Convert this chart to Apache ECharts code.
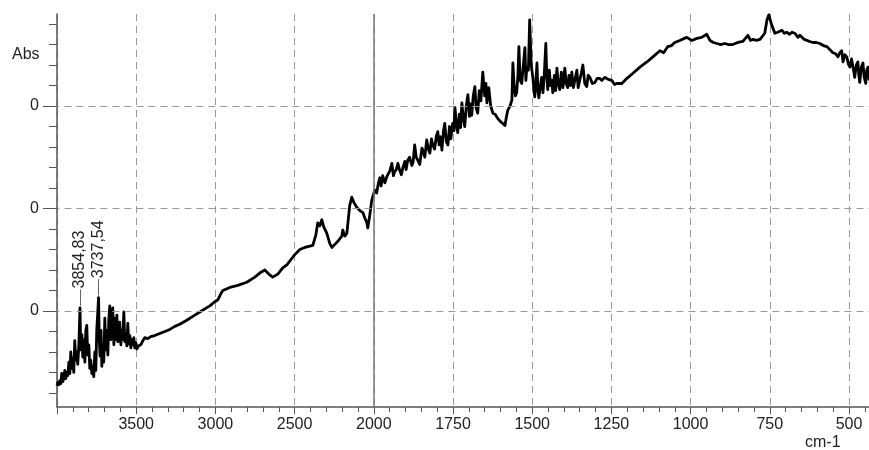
<!DOCTYPE html>
<html>
<head>
<meta charset="utf-8">
<script src="https://cdn.jsdelivr.net/npm/echarts@6/dist/echarts.min.js"></script>
<style>
  html, body { margin: 0; padding: 0; background: #fff; }
  #chart { width: 869px; height: 450px; }
</style>
</head>
<body>
<div id="chart"></div>
<script>
// IR absorbance spectrum, wavenumber (cm-1) against absorbance (Abs)
const wavenumbers = [
  4000, 3995, 3989, 3982, 3976, 3970, 3963, 3957, 3951, 3944, 3938, 3932, 3925, 3919, 3913, 3907,
  3900, 3894, 3888, 3881, 3875, 3869, 3862, 3854.83, 3850, 3843, 3837, 3831, 3824, 3818, 3812, 3806,
  3799, 3793, 3787, 3780, 3774, 3768, 3761, 3755, 3749, 3737.54, 3733, 3728, 3722, 3717, 3711, 3705,
  3698, 3692, 3686, 3679, 3673, 3667, 3660, 3654, 3648, 3641, 3635, 3629, 3622, 3616, 3610, 3604,
  3597, 3591, 3585, 3578, 3572, 3566, 3559, 3553, 3547, 3540, 3534, 3528, 3521, 3515, 3509, 3502,
  3496, 3484, 3471, 3458, 3446, 3427, 3408, 3383, 3351, 3319, 3288, 3256, 3225, 3181, 3130, 3098,
  3067, 3035, 3004, 2984, 2965, 2953, 2909, 2859, 2802, 2751, 2720, 2688, 2663, 2638, 2606, 2575,
  2549, 2524, 2499, 2467, 2436, 2410, 2385, 2366, 2354, 2341, 2328, 2316, 2297, 2278, 2265, 2246,
  2227, 2215, 2202, 2196, 2183, 2170, 2158, 2152, 2139, 2126, 2107, 2088, 2069, 2057, 2044, 2038,
  2025, 2013, 1997, 1991, 1986, 1981, 1977, 1972, 1965, 1959, 1954, 1949, 1943, 1938, 1934, 1929,
  1924, 1918, 1913, 1908, 1902, 1898, 1893, 1887, 1880, 1876, 1871, 1866, 1861, 1855, 1848, 1844,
  1839, 1833, 1828, 1823, 1818, 1814, 1808, 1803, 1798, 1794, 1789, 1785, 1780, 1776, 1771, 1766,
  1761, 1757, 1751, 1747, 1744, 1739, 1735, 1730, 1726, 1722, 1717, 1713, 1708, 1703, 1698, 1694,
  1691, 1686, 1681, 1677, 1672, 1667, 1662, 1656, 1650, 1646, 1643, 1637, 1631, 1624, 1617, 1609,
  1601, 1593, 1586, 1581, 1577, 1570, 1564, 1561, 1557, 1553, 1549, 1545, 1542, 1538, 1533, 1528,
  1523, 1520, 1517, 1512, 1508, 1503, 1498, 1495, 1492, 1488, 1485, 1482, 1479, 1474, 1470, 1466,
  1462, 1457, 1454, 1451, 1446, 1442, 1438, 1435, 1430, 1426, 1422, 1418, 1413, 1408, 1403, 1397,
  1393, 1388, 1384, 1379, 1375, 1370, 1365, 1359, 1355, 1350, 1345, 1340, 1334, 1328, 1323, 1318,
  1310, 1302, 1295, 1287, 1280, 1271, 1260, 1249, 1240, 1233, 1217, 1201, 1182, 1160, 1138, 1119,
  1097, 1085, 1072, 1060, 1050, 1034, 1020, 1012, 996, 980, 965, 949, 939, 928, 917, 905,
  892, 880, 867, 851, 835, 827, 819, 811, 803, 792, 781, 766, 759, 753, 744, 734,
  725, 712, 704, 696, 688, 680, 671, 661, 655, 649, 641, 633, 624, 614, 603, 592,
  581, 570, 560, 551, 542, 535, 529, 523, 519, 513, 507, 502, 497, 492, 488, 485,
  482, 477, 472, 469, 466, 461, 456, 452, 447, 444, 440, 437, 434
];
const absorbance = [
  0.027, 0.030, 0.028, 0.032, 0.029, 0.039, 0.031, 0.035, 0.042, 0.034, 0.040, 0.037, 0.050, 0.039, 0.060, 0.044,
  0.054, 0.040, 0.071, 0.052, 0.060, 0.048, 0.067, 0.103, 0.062, 0.077, 0.055, 0.072, 0.050, 0.081, 0.086, 0.057,
  0.067, 0.044, 0.052, 0.039, 0.046, 0.036, 0.060, 0.042, 0.081, 0.113, 0.072, 0.056, 0.081, 0.046, 0.067, 0.050,
  0.093, 0.062, 0.081, 0.057, 0.091, 0.105, 0.072, 0.086, 0.103, 0.067, 0.093, 0.072, 0.096, 0.070, 0.077, 0.089,
  0.067, 0.081, 0.072, 0.099, 0.070, 0.077, 0.066, 0.088, 0.068, 0.076, 0.064, 0.072, 0.067, 0.074, 0.064, 0.069,
  0.063, 0.066, 0.067, 0.071, 0.074, 0.073, 0.075, 0.076, 0.078, 0.080, 0.082, 0.085, 0.087, 0.091, 0.096, 0.099,
  0.102, 0.105, 0.109, 0.111, 0.117, 0.120, 0.123, 0.125, 0.128, 0.133, 0.137, 0.140, 0.136, 0.133, 0.136, 0.142,
  0.145, 0.150, 0.155, 0.160, 0.162, 0.163, 0.164, 0.174, 0.186, 0.183, 0.189, 0.182, 0.176, 0.166, 0.162, 0.165,
  0.168, 0.169, 0.173, 0.179, 0.173, 0.176, 0.194, 0.203, 0.211, 0.206, 0.201, 0.198, 0.196, 0.191, 0.186, 0.181,
  0.194, 0.208, 0.218, 0.215, 0.224, 0.230, 0.222, 0.232, 0.225, 0.231, 0.232, 0.237, 0.244, 0.232, 0.236, 0.238,
  0.244, 0.237, 0.233, 0.240, 0.246, 0.238, 0.247, 0.250, 0.242, 0.245, 0.262, 0.250, 0.247, 0.243, 0.259, 0.256,
  0.250, 0.267, 0.258, 0.254, 0.268, 0.262, 0.258, 0.270, 0.275, 0.262, 0.270, 0.257, 0.276, 0.283, 0.265, 0.262,
  0.280, 0.268, 0.283, 0.276, 0.299, 0.282, 0.274, 0.292, 0.279, 0.303, 0.287, 0.280, 0.300, 0.311, 0.290, 0.302,
  0.291, 0.310, 0.319, 0.298, 0.293, 0.315, 0.305, 0.333, 0.310, 0.322, 0.303, 0.318, 0.300, 0.293, 0.292, 0.288,
  0.285, 0.283, 0.281, 0.290, 0.296, 0.300, 0.306, 0.342, 0.320, 0.310, 0.313, 0.330, 0.358, 0.325, 0.322, 0.340,
  0.357, 0.325, 0.338, 0.335, 0.384, 0.340, 0.328, 0.318, 0.309, 0.325, 0.342, 0.315, 0.308, 0.320, 0.328, 0.313,
  0.330, 0.361, 0.330, 0.316, 0.335, 0.320, 0.325, 0.313, 0.330, 0.315, 0.337, 0.322, 0.316, 0.333, 0.318, 0.337,
  0.322, 0.318, 0.330, 0.320, 0.333, 0.318, 0.319, 0.335, 0.318, 0.319, 0.332, 0.340, 0.322, 0.319, 0.330, 0.328,
  0.322, 0.323, 0.327, 0.327, 0.325, 0.328, 0.326, 0.325, 0.321, 0.322, 0.322, 0.327, 0.332, 0.338, 0.343, 0.348,
  0.354, 0.352, 0.358, 0.359, 0.362, 0.364, 0.366, 0.367, 0.364, 0.366, 0.367, 0.370, 0.364, 0.362, 0.361, 0.360,
  0.361, 0.360, 0.360, 0.362, 0.363, 0.366, 0.369, 0.364, 0.365, 0.364, 0.365, 0.371, 0.384, 0.389, 0.379, 0.371,
  0.372, 0.374, 0.371, 0.372, 0.370, 0.372, 0.371, 0.367, 0.369, 0.368, 0.365, 0.364, 0.363, 0.362, 0.362, 0.361,
  0.359, 0.358, 0.355, 0.352, 0.351, 0.348, 0.352, 0.354, 0.343, 0.350, 0.348, 0.341, 0.338, 0.346, 0.347, 0.334,
  0.328, 0.340, 0.343, 0.330, 0.323, 0.338, 0.342, 0.328, 0.322, 0.335, 0.338, 0.327, 0.325
];
// Annotated peaks (cm-1)
const peakWavenumbers = [3854.83, 3737.54];
// Horizontal reference levels labelled on the absorbance axis
const absTicks = [0.1, 0.2, 0.3];
// Wavenumber where the axis scale changes (2:1 compression above it)
const scaleBreak = 2000;

// Piecewise wavenumber scale: above 2000 cm-1 is drawn at half the density
function toAxis(w) { return w <= scaleBreak ? w : scaleBreak + (w - scaleBreak) / 2; }
function fromAxis(t) { return t <= scaleBreak ? t : scaleBreak + (t - scaleBreak) * 2; }

const FONT = 'Arial, "Liberation Sans", sans-serif';
const AXIS_COLOR = '#555';
const TEXT_COLOR = '#222';

const spectrum = wavenumbers.map((w, i) => [toAxis(w), absorbance[i]]);
const peakAbs = w => absorbance[wavenumbers.indexOf(w)];

const chart = echarts.init(document.getElementById('chart'), null, { renderer: 'canvas' });

chart.setOption({
  animation: false,
  backgroundColor: '#fff',
  // the plot runs on past the right edge of the page, down to 0 on the axis
  grid: { left: 57, top: 14, bottom: 43, width: 950.4, outerBoundsMode: 'none', containLabel: false },
  xAxis: {
    type: 'value',
    inverse: true,
    min: 0,
    max: 3000,
    interval: 250,
    axisLine: { show: true, onZero: false, lineStyle: { color: AXIS_COLOR, width: 1.5 } },
    axisTick: { show: true, inside: false, length: 7, lineStyle: { color: AXIS_COLOR, width: 1 } },
    minorTick: { show: true, splitNumber: 5, length: 5, lineStyle: { color: AXIS_COLOR, width: 1 } },
    axisLabel: {
      showMaxLabel: false,
      margin: 10,
      fontSize: 16,
      fontFamily: FONT,
      color: TEXT_COLOR,
      formatter: t => String(Math.round(fromAxis(t)))
    },
    splitLine: { show: true, lineStyle: { color: '#999', width: 1, type: [7, 5] } }
  },
  yAxis: {
    type: 'value',
    min: 0.0063,
    max: 0.3898,
    axisLine: { show: true, onZero: false, lineStyle: { color: AXIS_COLOR, width: 1.5 } },
    axisTick: { show: true, length: 14, customValues: absTicks, lineStyle: { color: AXIS_COLOR, width: 1 } },
    minorTick: { show: true, splitNumber: 5, length: 8, lineStyle: { color: AXIS_COLOR, width: 1 } },
    axisLabel: {
      customValues: absTicks,
      margin: 18,
      fontSize: 16,
      fontFamily: FONT,
      color: TEXT_COLOR,
      formatter: v => v.toFixed(0)
    },
    splitLine: { show: false }
  },
  graphic: [
    { type: 'text', left: 12, top: 47, style: { text: 'Abs', font: '16px ' + FONT, fill: TEXT_COLOR } },
    { type: 'text', left: 805, top: 435, style: { text: 'cm-1', font: '16px ' + FONT, fill: TEXT_COLOR } }
  ],
  series: [{
    type: 'line',
    data: spectrum,
    showSymbol: false,
    symbol: 'none',
    lineStyle: { color: '#000', width: 2.8, join: 'round' },
    markLine: {
      silent: true,
      symbol: ['none', 'none'],
      label: { show: false },
      animation: false,
      data: [
        ...absTicks.map(v => ({ yAxis: v, lineStyle: { color: '#999', width: 1, type: [7, 5] } })),
        { xAxis: toAxis(scaleBreak), lineStyle: { color: '#777', width: 1.5, type: 'solid' } },
        ...peakWavenumbers.map(w => [
          { coord: [toAxis(w), peakAbs(w) + 0.002], lineStyle: { color: '#666', width: 1, type: 'solid' } },
          { coord: [toAxis(w), peakAbs(w) + 0.018] }
        ])
      ]
    },
    markPoint: {
      silent: true,
      symbol: 'circle',
      symbolSize: 1,
      itemStyle: { color: 'rgba(0,0,0,0)' },
      animation: false,
      data: peakWavenumbers.map(w => ({
        name: String(w).replace('.', ','),
        coord: [toAxis(w), peakAbs(w) + 0.019]
      })),
      label: {
        show: true,
        position: 'inside',
        formatter: '{b}',
        rotate: 90,
        align: 'left',
        verticalAlign: 'middle',
        fontSize: 16,
        fontFamily: FONT,
        color: TEXT_COLOR
      }
    }
  }]
});
</script>
</body>
</html>
